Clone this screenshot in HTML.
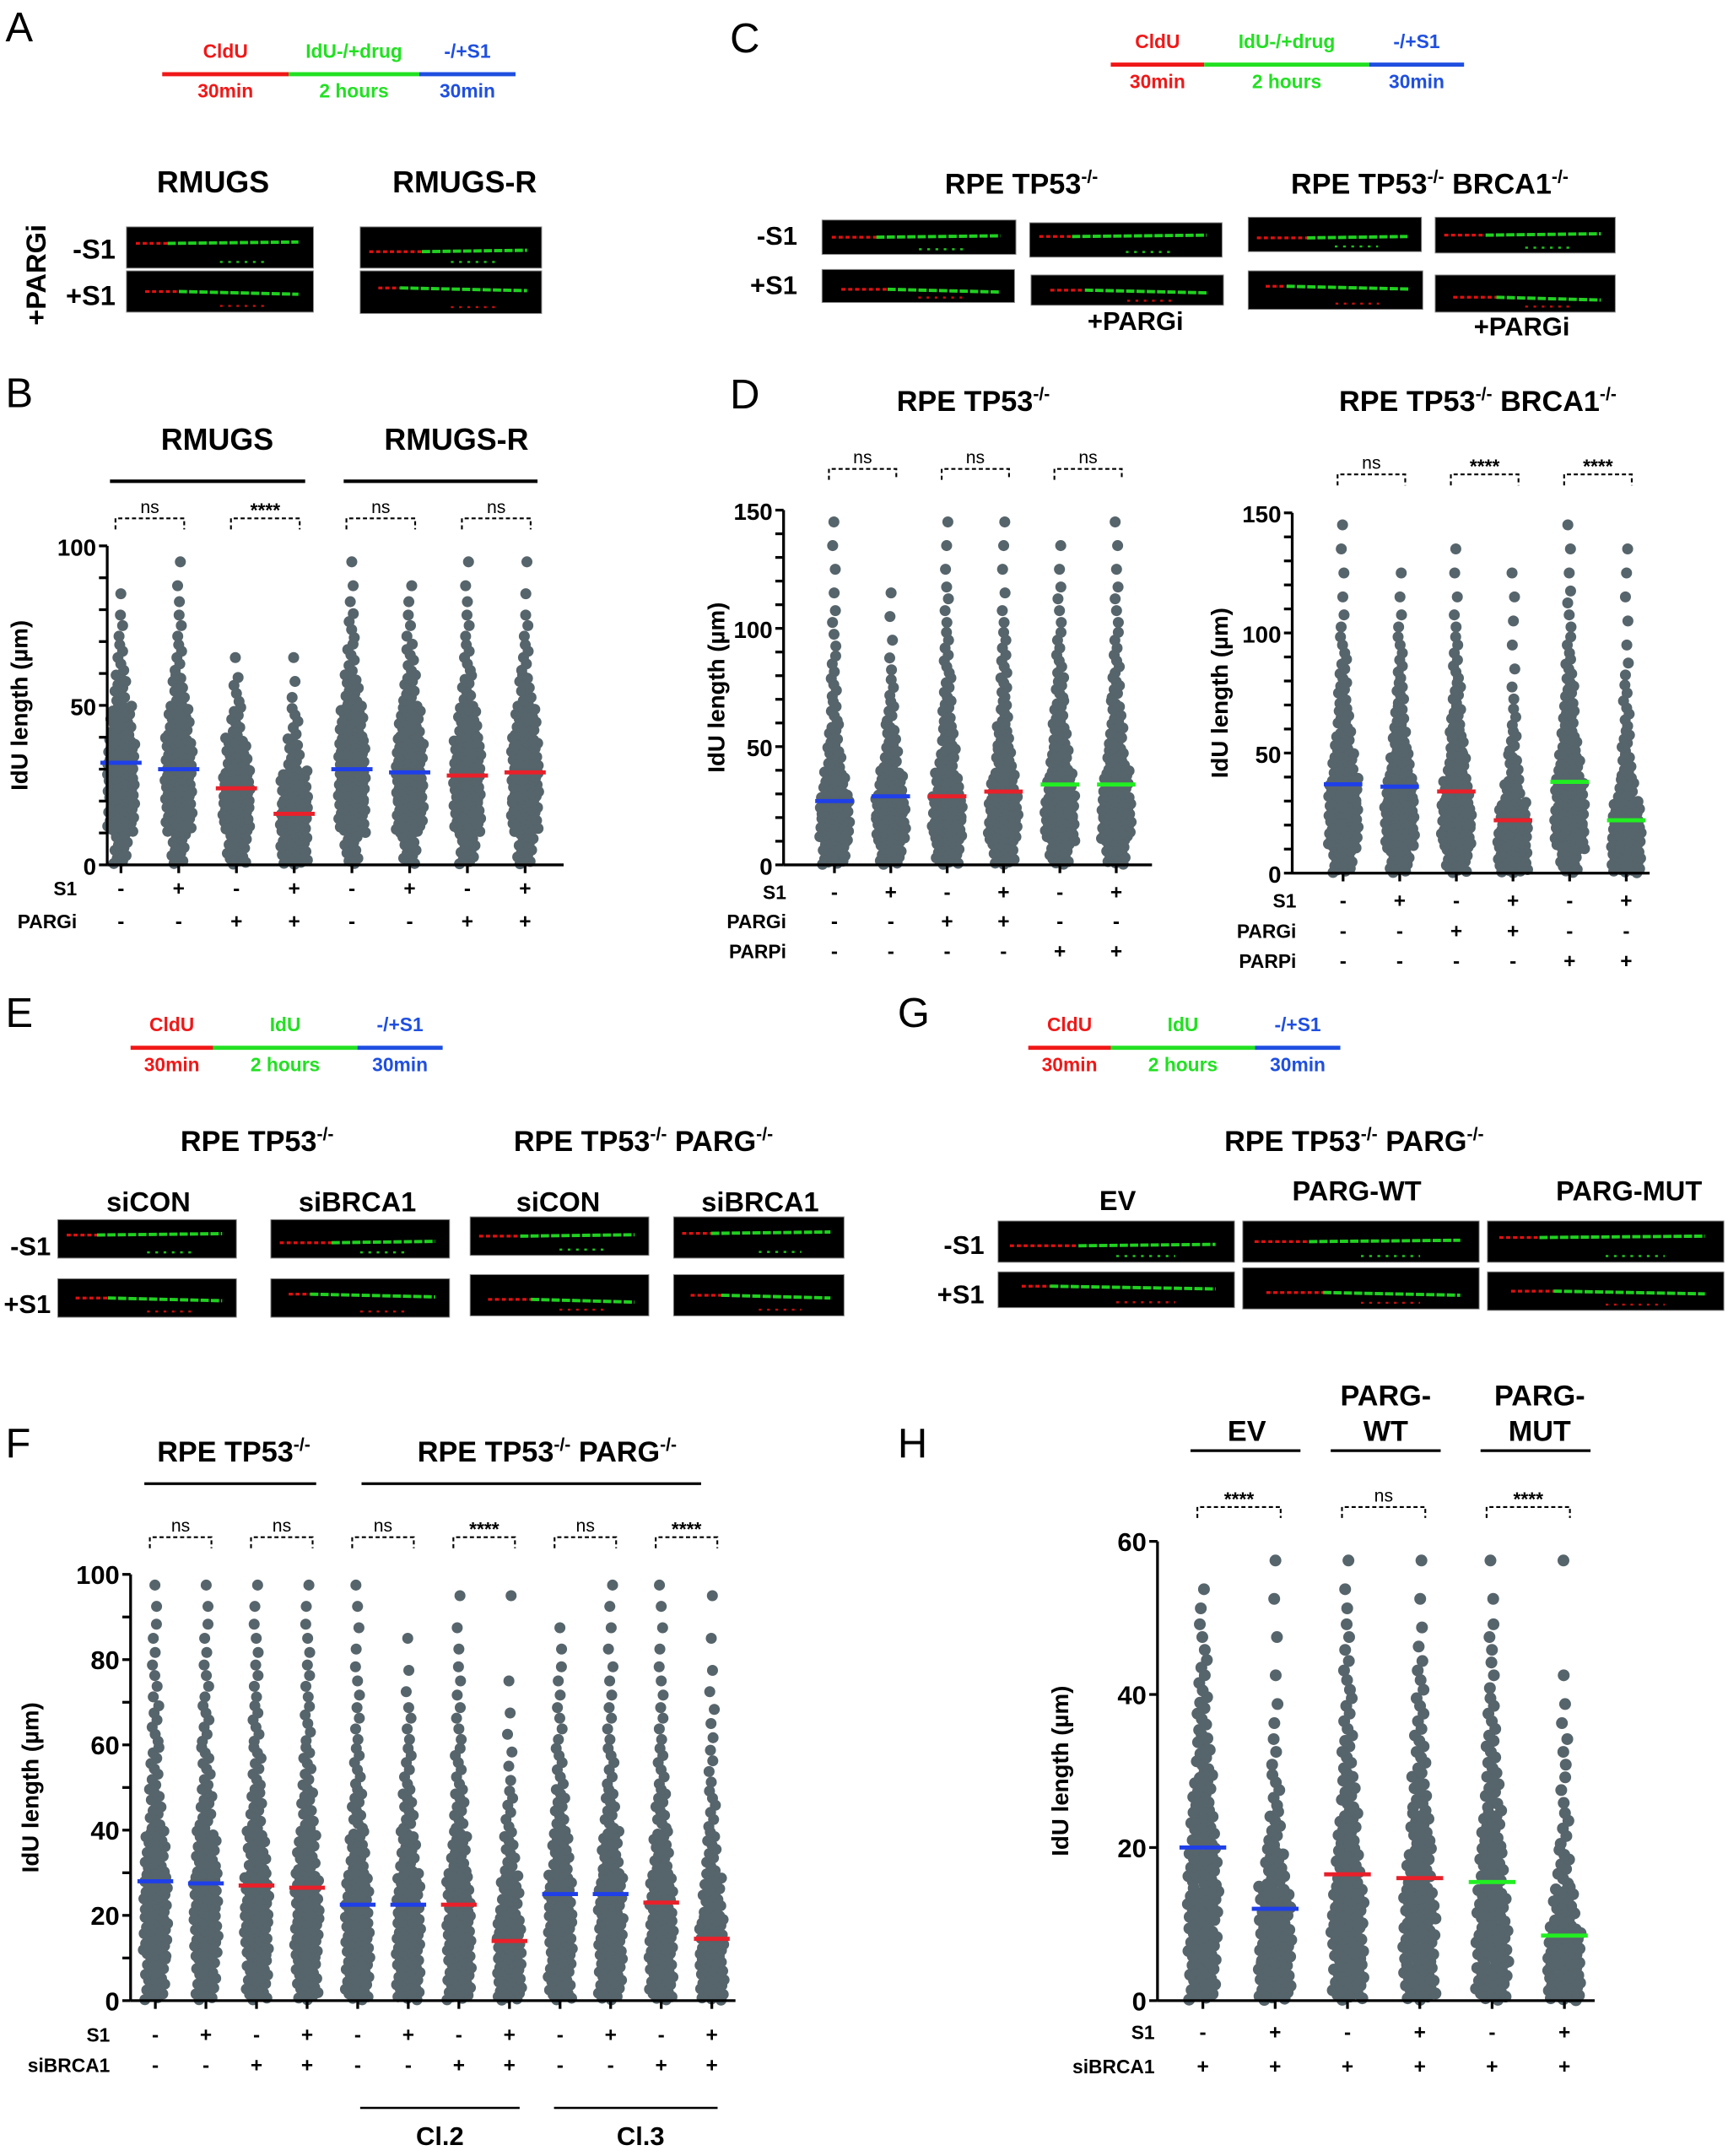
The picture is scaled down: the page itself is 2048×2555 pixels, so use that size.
<!DOCTYPE html>
<html><head><meta charset="utf-8">
<style>
html,body{margin:0;padding:0;background:#fff;}
svg{display:block;}
text{font-family:"Liberation Sans",Arial,sans-serif;}
</style></head>
<body>
<svg id="fig" xmlns="http://www.w3.org/2000/svg" width="2048" height="2555" viewBox="0 0 1257 1568" preserveAspectRatio="none">
<rect width="1257" height="1568" fill="#fff"/>
<g id="static" font-weight="bold" fill="#000">
  <text x="4" y="30" font-size="30" font-weight="normal">A</text>
  <text x="4" y="296" font-size="30" font-weight="normal">B</text>
  <text x="531" y="38" font-size="30" font-weight="normal">C</text>
  <text x="531" y="297" font-size="30" font-weight="normal">D</text>
  <text x="4" y="747" font-size="30" font-weight="normal">E</text>
  <text x="653" y="747" font-size="30" font-weight="normal">G</text>
  <text x="4" y="1060" font-size="30" font-weight="normal">F</text>
  <text x="653" y="1060" font-size="30" font-weight="normal">H</text>

  <text x="155" y="140" font-size="22" text-anchor="middle">RMUGS</text>
  <text x="338" y="140" font-size="22" text-anchor="middle">RMUGS-R</text>
  <text x="84" y="188" font-size="20" text-anchor="end">-S1</text>
  <text x="84" y="222" font-size="20" text-anchor="end">+S1</text>
  <text transform="translate(33,200) rotate(-90)" font-size="20" text-anchor="middle">+PARGi</text>

  <text x="158" y="327" font-size="22" text-anchor="middle">RMUGS</text>
  <text x="332" y="327" font-size="22" text-anchor="middle">RMUGS-R</text>
  <line x1="80" y1="350" x2="222" y2="350" stroke="#000" stroke-width="2.5"/>
  <line x1="250" y1="350" x2="391" y2="350" stroke="#000" stroke-width="2.5"/>

  <text x="743" y="141" font-size="21" text-anchor="middle">RPE TP53<tspan font-size="13" dy="-8">-/-</tspan></text>
  <text x="1040" y="141" font-size="21" text-anchor="middle">RPE TP53<tspan font-size="13" dy="-8">-/-</tspan><tspan dy="8"> BRCA1</tspan><tspan font-size="13" dy="-8">-/-</tspan></text>
  <text x="580" y="178" font-size="19" text-anchor="end">-S1</text>
  <text x="580" y="214" font-size="19" text-anchor="end">+S1</text>
  <text x="826" y="240" font-size="19" text-anchor="middle">+PARGi</text>
  <text x="1107" y="244" font-size="19" text-anchor="middle">+PARGi</text>

  <text x="708" y="299" font-size="21" text-anchor="middle">RPE TP53<tspan font-size="13" dy="-8">-/-</tspan></text>
  <text x="1075" y="299" font-size="21" text-anchor="middle">RPE TP53<tspan font-size="13" dy="-8">-/-</tspan><tspan dy="8"> BRCA1</tspan><tspan font-size="13" dy="-8">-/-</tspan></text>

  <text x="187" y="837" font-size="21" text-anchor="middle">RPE TP53<tspan font-size="13" dy="-8">-/-</tspan></text>
  <text x="468" y="837" font-size="21" text-anchor="middle">RPE TP53<tspan font-size="13" dy="-8">-/-</tspan><tspan dy="8"> PARG</tspan><tspan font-size="13" dy="-8">-/-</tspan></text>
  <text x="108" y="881" font-size="20" text-anchor="middle">siCON</text>
  <text x="260" y="881" font-size="20" text-anchor="middle">siBRCA1</text>
  <text x="406" y="881" font-size="20" text-anchor="middle">siCON</text>
  <text x="553" y="881" font-size="20" text-anchor="middle">siBRCA1</text>
  <text x="37" y="913" font-size="19" text-anchor="end">-S1</text>
  <text x="37" y="955" font-size="19" text-anchor="end">+S1</text>

  <text x="985" y="837" font-size="21" text-anchor="middle">RPE TP53<tspan font-size="13" dy="-8">-/-</tspan><tspan dy="8"> PARG</tspan><tspan font-size="13" dy="-8">-/-</tspan></text>
  <text x="813" y="880" font-size="20" text-anchor="middle">EV</text>
  <text x="987" y="873" font-size="20" text-anchor="middle">PARG-WT</text>
  <text x="1185" y="873" font-size="20" text-anchor="middle">PARG-MUT</text>
  <text x="716" y="912" font-size="19" text-anchor="end">-S1</text>
  <text x="716" y="948" font-size="19" text-anchor="end">+S1</text>

  <text x="170" y="1063" font-size="21" text-anchor="middle">RPE TP53<tspan font-size="13" dy="-8">-/-</tspan></text>
  <text x="398" y="1063" font-size="21" text-anchor="middle">RPE TP53<tspan font-size="13" dy="-8">-/-</tspan><tspan dy="8"> PARG</tspan><tspan font-size="13" dy="-8">-/-</tspan></text>
  <line x1="105" y1="1079" x2="230" y2="1079" stroke="#000" stroke-width="2"/>
  <line x1="263" y1="1079" x2="510" y2="1079" stroke="#000" stroke-width="2"/>
  <line x1="262" y1="1533" x2="378" y2="1533" stroke="#000" stroke-width="1.5"/>
  <line x1="403" y1="1533" x2="522" y2="1533" stroke="#000" stroke-width="1.5"/>
  <text x="320" y="1560" font-size="19" text-anchor="middle">Cl.2</text>
  <text x="466" y="1560" font-size="19" text-anchor="middle">Cl.3</text>

  <text x="907" y="1048" font-size="21" text-anchor="middle">EV</text>
  <text x="1008" y="1022" font-size="21" text-anchor="middle">PARG-</text>
  <text x="1008" y="1048" font-size="21" text-anchor="middle">WT</text>
  <text x="1120" y="1022" font-size="21" text-anchor="middle">PARG-</text>
  <text x="1120" y="1048" font-size="21" text-anchor="middle">MUT</text>
  <line x1="866" y1="1055" x2="946" y2="1055" stroke="#000" stroke-width="2"/>
  <line x1="968" y1="1055" x2="1048" y2="1055" stroke="#000" stroke-width="2"/>
  <line x1="1077" y1="1055" x2="1157" y2="1055" stroke="#000" stroke-width="2"/>
</g>
<g id="dyn"></g>
</svg>
<script>
// ---------- DATA ----------
const bS1 = ['-','+','-','+','-','+','-','+'];
const bPARGi = ['-','-','+','+','-','-','+','+'];
const bMeans = [32,30,24,16,30,29,28,29];
const bSig = ['ns','****','ns','ns'];
const bCounts = [
 [12,30,40,34,20,10,5,3,1,0],
 [12,28,36,30,20,10,5,3,2,1],
 [18,36,36,20,8,4,1,0,0,0],
 [30,40,26,10,5,2,1,0,0,0],
 [12,30,38,32,22,12,6,4,2,1],
 [12,30,36,30,20,10,6,3,2,0],
 [14,32,36,30,18,8,5,3,2,1],
 [14,32,36,30,20,10,5,3,1,1]];
const bTicks = [0,50,100];

const dlS1 = ['-','+','-','+','-','+'];
const dlPARGi = ['-','-','+','+','-','-'];
const dlPARPi = ['-','-','-','-','+','+'];
const dlMeans = [27,29,29,31,34,34];
const dlSig = ['ns','ns','ns'];
const dlCounts = [
 [22,34,30,20,12,8,5,4,3,2,2,1,1,1,1],
 [20,32,30,22,12,8,5,3,2,1,1,1,0,0,0],
 [22,32,30,22,14,10,7,5,4,3,2,2,1,1,1],
 [20,30,28,22,14,10,6,5,4,3,2,1,1,1,1],
 [18,30,30,24,16,12,8,6,4,3,2,2,1,1,0],
 [18,30,30,24,16,12,8,6,4,3,2,2,1,1,1]];
const dTicks = [0,50,100,150];

const drS1 = ['-','+','-','+','-','+'];
const drPARGi = ['-','-','+','+','-','-'];
const drPARPi = ['-','-','-','-','+','+'];
const drMeans = [37,36,34,22,38,22];
const drSig = ['ns','****','****'];
const drCounts = [
 [18,30,32,28,20,14,10,7,5,3,2,1,1,1,1],
 [18,30,32,26,18,12,8,6,4,3,2,1,1,0,0],
 [20,32,32,24,16,12,8,6,4,3,2,1,1,1,0],
 [30,36,26,14,8,5,3,2,1,1,1,1,1,0,0],
 [16,30,32,28,20,14,10,7,5,3,2,2,1,1,1],
 [30,36,26,14,8,6,4,3,2,1,1,1,1,1,0]];

const fS1 = ['-','+','-','+','-','+','-','+','-','+','-','+'];
const fSiBRCA1 = ['-','-','+','+','-','-','+','+','-','-','+','+'];
const fMeans = [28,27.5,27,26.5,22.5,22.5,22.5,14,25,25,23,14.5];
const fSig = ['ns','ns','ns','****','ns','****'];
const fCounts = [
 [22,34,32,22,12,8,6,4,3,2],
 [22,34,32,22,12,8,6,4,3,2],
 [24,34,30,20,12,8,6,4,3,2],
 [24,34,30,20,12,8,5,4,3,2],
 [28,36,26,16,10,6,4,3,2,2],
 [28,36,26,16,10,6,4,2,1,0],
 [28,36,26,16,10,6,4,3,2,1],
 [38,38,20,10,6,3,2,1,0,1],
 [26,34,28,18,10,6,4,3,2,0],
 [26,34,28,18,10,6,4,3,2,2],
 [28,34,26,16,10,6,4,3,2,2],
 [38,36,20,10,6,4,3,2,1,1]];
const fTicks = [0,20,40,60,80,100];

const hS1 = ['-','+','-','+','-','+'];
const hSiBRCA1 = ['+','+','+','+','+','+'];
const hMeans = [20,12,16.5,16,15.5,8.5];
const hSig = ['****','ns','****'];
const hCounts = [
 [20,22,24,22,18,14,10,7,5,3,2,0],
 [30,30,24,14,8,5,3,2,1,1,1,1],
 [24,26,24,18,14,10,7,5,4,3,2,1],
 [24,26,24,18,14,10,7,5,4,2,1,1],
 [24,26,22,18,14,10,7,5,3,3,1,1],
 [40,32,16,8,5,3,3,2,1,0,0,1]];
const hTicks = [0,20,40,60];

const BLUE='#1f3fe8', RED='#e8202a', GREEN='#22ee22', DOT='#56646b';
const bColors=[BLUE,BLUE,RED,RED,BLUE,BLUE,RED,RED];
const dColors=[BLUE,BLUE,RED,RED,GREEN,GREEN];
const fColors=[BLUE,BLUE,RED,RED,BLUE,BLUE,RED,RED,BLUE,BLUE,RED,RED];
const hColors=[BLUE,BLUE,RED,RED,GREEN,GREEN];

// ---------- DRAW ----------
const NS='http://www.w3.org/2000/svg';
const dyn=document.getElementById('dyn');
function mk(tag, attrs, parent){const e=document.createElementNS(NS,tag);for(const k in attrs)e.setAttribute(k,attrs[k]);(parent||dyn).appendChild(e);return e;}

function timeline(x0,x1,x2,x3,y,labs,sub,name){
  const g=mk('g',{});
  
  
  mk('line',{x1:x0,y1:y,x2:x1,y2:y,stroke:'#f01818','stroke-width':3},g);
  mk('line',{x1:x1,y1:y,x2:x2,y2:y,stroke:'#22e022','stroke-width':3},g);
  mk('line',{x1:x2,y1:y,x2:x3,y2:y,stroke:'#1f4fe0','stroke-width':3},g);
  const cols=['#f01818','#22e022','#1f4fe0'];
  const cx=[(x0+x1)/2,(x1+x2)/2,(x2+x3)/2];
  for(let i=0;i<3;i++){
    const t=mk('text',{x:cx[i],y:y-12,'text-anchor':'middle','font-size':14,'font-weight':'bold',fill:cols[i]},g);t.textContent=labs[i];
    const s=mk('text',{x:cx[i],y:y+17,'text-anchor':'middle','font-size':14,'font-weight':'bold',fill:cols[i]},g);s.textContent=sub[i];
  }
}
timeline(118,210,305,375,54,['CldU','IdU-/+drug','-/+S1'],['30min','2 hours','30min'],'timeline-a');
timeline(808,876,996,1065,47,['CldU','IdU-/+drug','-/+S1'],['30min','2 hours','30min'],'timeline-c');
timeline(95,155,260,322,762,['CldU','IdU','-/+S1'],['30min','2 hours','30min'],'timeline-e');
timeline(748,808,913,975,762,['CldU','IdU','-/+S1'],['30min','2 hours','30min'],'timeline-g');

function micro(x,y,w,h,v){
  const g=mk('g',{});
  
  
  mk('rect',{x:x,y:y,width:w,height:h,fill:'#000',stroke:'#888','stroke-width':0.6},g);
  const yy=y+h*(0.4+0.2*(v%3)/2);
  const rs=x+w*(0.05+0.05*(v%2)), re=x+w*(0.22+0.06*(v%3));
  mk('line',{x1:rs,y1:yy,x2:re,y2:yy,stroke:'#e01010','stroke-width':2,'stroke-dasharray':'3 2'},g);
  mk('line',{x1:re,y1:yy,x2:x+w*0.92,y2:yy+(v%2?2:-1),stroke:'#20d020','stroke-width':2.4,'stroke-dasharray':'6 1.5'},g);
  mk('line',{x1:x+w*0.5,y1:y+h*0.85,x2:x+w*0.75,y2:y+h*0.85,stroke:(v%2?'#c01010':'#20c020'),'stroke-width':1.5,'stroke-dasharray':'2 4'},g);
}
[[92,165,136,30],[92,197,136,30],[262,165,132,30],[262,197,132,31],
 [598,160,141,25],[598,196,140,24],[749,162,140,25],[750,200,140,22],
 [908,158,126,25],[908,197,127,28],[1044,158,131,26],[1044,200,131,27],
 [42,887,130,28],[42,930,130,28],[197,887,130,28],[197,930,130,28],
 [342,885,130,28],[342,927,130,30],[490,885,124,30],[490,927,124,30],
 [726,888,172,30],[726,925,172,26],[904,888,172,30],[904,922,172,30],[1082,888,172,30],[1082,925,172,28]
].forEach((r,i)=>micro(r[0],r[1],r[2],r[3],i));

function plot(c){
  const g=mk('g',{});
  
  
  const ys=v=>c.y0-(v/c.vmax)*(c.y0-c.ytop);
  const xs=i=>c.x1+i*c.dx;
  const dg=mk('g',{fill:DOT},g);
  
  
  c.counts.forEach((col,i)=>{
    const cx=xs(i);
    col.forEach((n,b)=>{
      const lo=b*c.step;
      for(let k=0;k<n;k++){
        const v=lo+c.step*((k+0.5)/n);
        const f=(k*0.618034+b*0.31+i*0.17)%1;
        const hw=Math.min(c.hw,1+n*c.wk);
        const d=mk('circle',{cx:(cx+(f*2-1)*hw).toFixed(1),cy:ys(v).toFixed(1),r:c.r},dg);
        
        
      }
    });
  });
  c.means.forEach((m,i)=>{
    const l=mk('line',{x1:xs(i)-c.mw,x2:xs(i)+c.mw,y1:ys(m),y2:ys(m),stroke:c.colors[i],'stroke-width':3},g);
    
    
  });
  const ya=mk('line',{x1:c.ax,y1:c.y0,x2:c.ax,y2:c.ytop,stroke:'#000','stroke-width':2},g);
  
  
  const xa=mk('line',{x1:c.ax,y1:c.y0,x2:c.xend,y2:c.y0,stroke:'#000','stroke-width':2},g);
  
  
  c.counts.forEach((col,i)=>{
    mk('line',{x1:xs(i),x2:xs(i),y1:c.y0,y2:c.y0+6,stroke:'#000','stroke-width':2},g);
  });
  for(let v=0;v<=c.vmax+1e-9;v+=c.minor){
    mk('line',{x1:c.ax-6,x2:c.ax,y1:ys(v),y2:ys(v),stroke:'#000','stroke-width':2},g);
  }
  c.ticks.forEach(v=>{
    const t=mk('text',{x:c.ax-8,y:ys(v)+7,'text-anchor':'end','font-size':c.tf,'font-weight':'bold'},g);
    
    
    t.textContent=v;
  });
  const yt=mk('text',{transform:`translate(${c.ytx},${(c.y0+c.ytop)/2}) rotate(-90)`,'text-anchor':'middle','font-size':c.ytf,'font-weight':'bold'},g);
  
  
  yt.textContent='IdU length (µm)';
  c.sig.forEach((s,j)=>{
    const a=xs(2*j)-4,b=xs(2*j+1)+4;
    mk('path',{d:`M${a},${c.by+8}V${c.by}H${b}V${c.by+8}`,fill:'none',stroke:'#000','stroke-width':1.3,'stroke-dasharray':'3 2'},g);
    const t=mk('text',{x:(a+b)/2,y:c.by-(s==='ns'?4:1),'text-anchor':'middle','font-size':s==='ns'?13:14,'font-weight':s==='ns'?'normal':'bold'},g);
    
    
    t.textContent=s;
  });
  c.rows.forEach((row,ri)=>{
    const lt=mk('text',{x:c.rlx,y:c.ry[ri]+5,'text-anchor':'end','font-size':14,'font-weight':'bold'},g);
    
    
    lt.textContent=row.label;
    row.vals.forEach((v,i)=>{
      const t=mk('text',{x:xs(i),y:c.ry[ri]+5,'text-anchor':'middle','font-size':15,'font-weight':'bold'},g);
      
      
      t.textContent=v;
    });
  });
}

plot({name:'chart-b',counts:bCounts,means:bMeans,colors:bColors,sig:bSig,ticks:bTicks,
  x1:88,dx:42,y0:629,ytop:397,vmax:100,step:10,minor:10,ax:78,xend:410,r:4,hw:10,wk:0.35,mw:15,
  tf:17,ytx:20,ytf:17,by:377,rlx:56,ry:[646,670],
  rows:[{label:'S1',vals:bS1},{label:'PARGi',vals:bPARGi}]});
plot({name:'chart-d-left',counts:dlCounts,means:dlMeans,colors:dColors,sig:dlSig,ticks:dTicks,
  x1:607,dx:41,y0:629,ytop:371,vmax:150,step:10,minor:10,ax:570,xend:838,r:4,hw:11,wk:0.35,mw:14,
  tf:17,ytx:527,ytf:17,by:341,rlx:572,ry:[649,670,692],
  rows:[{label:'S1',vals:dlS1},{label:'PARGi',vals:dlPARGi},{label:'PARPi',vals:dlPARPi}]});
plot({name:'chart-d-right',counts:drCounts,means:drMeans,colors:dColors,sig:drSig,ticks:dTicks,
  x1:977,dx:41.2,y0:635,ytop:373,vmax:150,step:10,minor:10,ax:940,xend:1200,r:4,hw:11,wk:0.35,mw:14,
  tf:17,ytx:893,ytf:17,by:345,rlx:943,ry:[655,677,699],
  rows:[{label:'S1',vals:drS1},{label:'PARGi',vals:drPARGi},{label:'PARPi',vals:drPARPi}]});
plot({name:'chart-f',counts:fCounts,means:fMeans,colors:fColors,sig:fSig,ticks:fTicks,
  x1:113,dx:36.8,y0:1455,ytop:1145,vmax:100,step:10,minor:10,ax:95,xend:535,r:4,hw:9,wk:0.3,mw:13,
  tf:19,ytx:28,ytf:17,by:1118,rlx:80,ry:[1480,1502],
  rows:[{label:'S1',vals:fS1},{label:'siBRCA1',vals:fSiBRCA1}]});
plot({name:'chart-h',counts:hCounts,means:hMeans,colors:hColors,sig:hSig,ticks:hTicks,
  x1:875,dx:52.6,y0:1455,ytop:1121,vmax:60,step:5,minor:20,ax:842,xend:1160,r:4.3,hw:12,wk:0.45,mw:17,
  tf:19,ytx:777,ytf:17,by:1096,rlx:840,ry:[1478,1503],
  rows:[{label:'S1',vals:hS1},{label:'siBRCA1',vals:hSiBRCA1}]});
</script>
</body></html>
